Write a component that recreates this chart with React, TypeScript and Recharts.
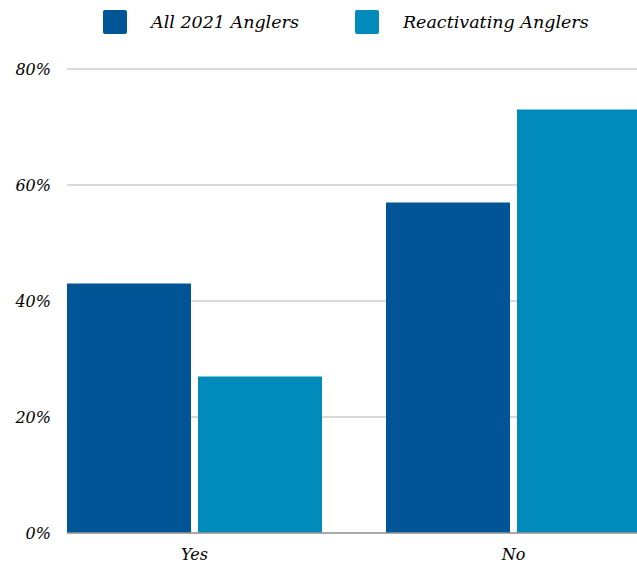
import React from 'react';
import { BarChart, Bar, XAxis, YAxis, CartesianGrid, Legend } from 'recharts';

const categories = ['Yes', 'No'];
const all2021 = [43, 57];
const reactivating = [27, 73];
const yTicks = [0, 20, 40, 60, 80];
const seriesNames = ['All 2021 Anglers', 'Reactivating Anglers'];
const colors = ['#005596', '#008bba'];

const data = categories.map((c, i) => ({ category: c, all: all2021[i], react: reactivating[i] }));

const FONT = '"DejaVu Serif", serif';

function LegendContent(props: any) {
  const payload = props.payload || [];
  return (
    <div
      style={{
        height: 44,
        display: 'flex',
        alignItems: 'center',
        paddingLeft: 103,
        fontFamily: FONT,
        fontStyle: 'italic',
        fontSize: 17.5,
        color: '#000',
      }}
    >
      {payload.map((p: any, i: number) => (
        <div key={i} style={{ display: 'flex', alignItems: 'center', marginLeft: i ? 56 : 0 }}>
          <div style={{ width: 24, height: 24, background: p.color, borderRadius: 2, marginRight: 24 }} />
          <span>{p.value}</span>
        </div>
      ))}
    </div>
  );
}

export default function App() {
  const tickStyle = { fill: '#000', fontSize: 16, fontFamily: FONT, fontStyle: 'italic' } as any;
  return (
    <div style={{ position: 'absolute', left: 0, top: 0, width: 637, height: 567, overflow: 'hidden', background: '#fff' }}>
      <BarChart
        width={673}
        height={567}
        data={data}
        margin={{ top: 25, right: 0, bottom: 4, left: 0 }}
        barSize={124}
        barGap={7}
      >
        <CartesianGrid vertical={false} stroke="#cccccc" strokeWidth={1.5} />
        <XAxis
          dataKey="category"
          padding={{ left: -32, right: 0 }}
          tickLine={false}
          axisLine={{ stroke: '#999999', strokeWidth: 1.5 }}
          tickSize={0}
          tickMargin={16}
          interval={0}
          tick={tickStyle}
          height={30}
        />
        <YAxis
          width={67}
          domain={[0, 80]}
          ticks={yTicks}
          axisLine={false}
          tickLine={false}
          tickSize={0}
          tickMargin={16}
          tick={tickStyle}
          tickFormatter={(v: number) => `${v}%`}
        />
        <Legend
          verticalAlign="top"
          content={<LegendContent />}
          wrapperStyle={{ top: 0, left: 0, width: 637 }}
        />
        <Bar dataKey="all" name={seriesNames[0]} fill={colors[0]} isAnimationActive={false} />
        <Bar dataKey="react" name={seriesNames[1]} fill={colors[1]} isAnimationActive={false} />
      </BarChart>
    </div>
  );
}
